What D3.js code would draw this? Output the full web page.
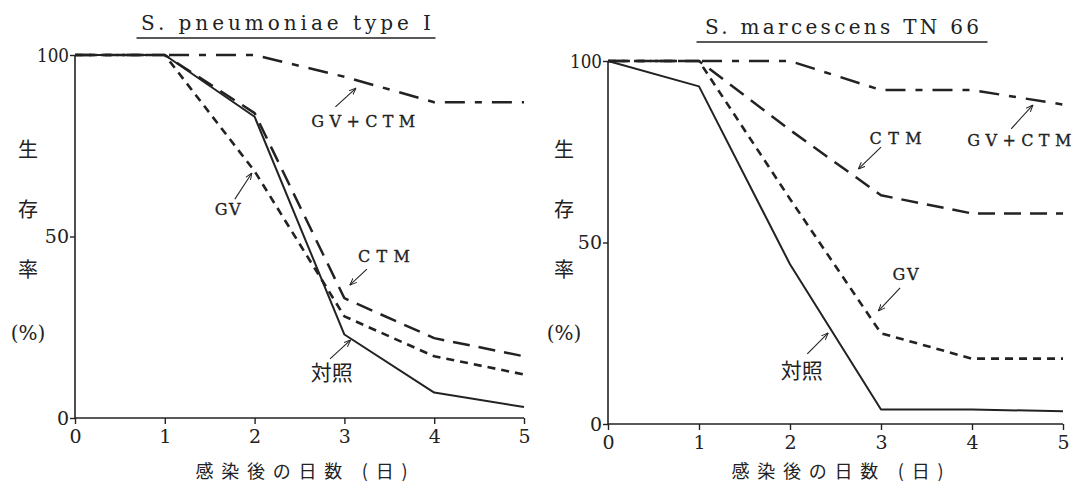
<!DOCTYPE html>
<html>
<head>
<meta charset="utf-8">
<script src="https://cdn.jsdelivr.net/npm/d3@7"></script>
<style>
  body { margin: 0; background: #fff; }
  svg { display: block; }
</style>
</head>
<body>
<div id="chart"></div>
<script>
(function(d3) {
    'use strict';

    // days after infection
    var days = [0, 1, 2, 3, 4, 5];
    var xTicks = [0, 1, 2, 3, 4, 5];
    var yTicks = [0, 50, 100];

    // S. pneumoniae type I, survival (%)
    var pneuControl = [100, 100, 83, 23, 7, 3];
    var pneuGV = [100, 100, 68, 28, 17, 12];
    var pneuCTM = [100, 100, 84, 33, 22, 17];
    var pneuGVCTM = [100, 100, 100, 94, 87, 87];

    // S. marcescens TN 66, survival (%)
    var marcControl = [100, 93, 44, 4, 4, 3.5];
    var marcGV = [100, 100, 62, 25, 18, 18];
    var marcCTM = [100, 100, 81, 63, 58, 58];
    var marcGVCTM = [100, 100, 100, 92, 92, 88];

    var width = 1074;
    var height = 493;
    var ink = '#222';
    var serif = 'DejaVu Serif, Liberation Serif, serif';
    var cjk = 'Noto Sans CJK JP, Noto Sans CJK SC, sans-serif';

    var styles = {
      control: { dash: null, w: 2 },
      gv: { dash: '8,6', w: 2.6 },
      ctm: { dash: '17,9', w: 2.5 },
      gvctm: { dash: '20,10,7,10', w: 2.5 }
    };

    var svg = d3.select('#chart')
      .append('svg')
      .attr('width', width)
      .attr('height', height);

    var defs = svg.append('defs');
    defs.append('marker')
      .attr('id', 'arr')
      .attr('viewBox', '0 0 10 10')
      .attr('refX', 10)
      .attr('refY', 5)
      .attr('markerWidth', 7)
      .attr('markerHeight', 7)
      .attr('markerUnits', 'userSpaceOnUse')
      .attr('orient', 'auto')
      .append('path')
      .attr('d', 'M0,1 L10,5 L0,9')
      .attr('fill', 'none')
      .attr('stroke', ink)
      .attr('stroke-width', 1.4);

    function drawPanel(p) {
      var x = d3.scaleLinear().domain([0, 5]).range([p.x0, p.x1]);
      var y = d3.scaleLinear().domain([0, 100]).range([p.y0, p.y1]);
      var g = svg.append('g');

      // title + underline
      g.append('text')
        .attr('x', p.titleX)
        .attr('y', p.titleY)
        .attr('text-anchor', 'middle')
        .attr('textLength', p.titleLen)
        .attr('lengthAdjust', 'spacing')
        .attr('font-family', serif)
        .attr('font-size', 20)
        .attr('fill', ink)
        .text(p.title);
      g.append('line')
        .attr('x1', p.titleX - p.ulLen / 2)
        .attr('x2', p.titleX + p.ulLen / 2)
        .attr('y1', p.titleY + 8)
        .attr('y2', p.titleY + 8)
        .attr('stroke', ink)
        .attr('stroke-width', 1.5);

      // axes
      var xAxis = d3.axisBottom(x).tickValues(xTicks).tickFormat(d3.format('d'))
        .tickSize(6).tickPadding(3);
      var yAxis = d3.axisLeft(y).tickValues(yTicks).tickFormat(d3.format('d'))
        .tickSize(5).tickPadding(1);

      var gx = g.append('g')
        .attr('transform', 'translate(0,' + p.y0 + ')')
        .call(xAxis);
      var gy = g.append('g')
        .attr('transform', 'translate(' + p.x0 + ',0)')
        .call(yAxis);

      [gx, gy].forEach(function(a) {
        a.attr('font-family', serif).attr('font-size', 19);
        a.select('.domain').attr('stroke', ink).attr('stroke-width', 1.6);
        a.selectAll('.tick line').attr('stroke', ink).attr('stroke-width', 1.4);
        a.selectAll('.tick text').attr('fill', ink);
      });
      gx.select('.domain').attr('d', 'M' + p.x0 + ',0H' + p.x1);
      gy.select('.domain').attr('d', 'M0,' + p.y0 + 'V' + p.y1);
      gx.selectAll('.tick text').attr('dy', '0.85em');
      gy.selectAll('.tick text').attr('textLength', function(d) { return d === 100 ? 32 : null; })
        .attr('lengthAdjust', 'spacingAndGlyphs');

      // y axis title
      ['生', '存', '率'].forEach(function(c, i) {
        g.append('text')
          .attr('x', p.yLabX)
          .attr('y', 157 + i * 60)
          .attr('text-anchor', 'middle')
          .attr('font-family', cjk)
          .attr('font-size', 20)
          .attr('fill', ink)
          .text(c);
      });
      g.append('text')
        .attr('x', p.yLabX)
        .attr('y', 340)
        .attr('text-anchor', 'middle')
        .attr('font-family', serif)
        .attr('font-size', 20)
        .attr('fill', ink)
        .text('(%)');

      // x axis title
      g.append('text')
        .attr('x', (p.x0 + p.x1) / 2 + 2)
        .attr('y', 478)
        .attr('text-anchor', 'middle')
        .attr('textLength', 212)
        .attr('lengthAdjust', 'spacing')
        .attr('font-family', cjk)
        .attr('font-size', 18)
        .attr('fill', ink)
        .text('感染後の日数 (日)');

      // series
      var line = d3.line()
        .x(function(d, i) { return x(days[i]); })
        .y(function(d) { return y(d); });

      p.series.forEach(function(s) {
        g.append('path')
          .datum(s.values)
          .attr('d', line)
          .attr('fill', 'none')
          .attr('stroke', ink)
          .attr('stroke-width', styles[s.key].w)
          .attr('stroke-dasharray', styles[s.key].dash)
          .attr('stroke-linejoin', 'round');
      });

      // labels with arrows
      p.notes.forEach(function(n) {
        g.append('line')
          .attr('x1', x(n.from[0]))
          .attr('y1', y(n.from[1]))
          .attr('x2', x(n.to[0]))
          .attr('y2', y(n.to[1]))
          .attr('stroke', ink)
          .attr('stroke-width', 1.1)
          .attr('marker-end', 'url(#arr)');
        var t = g.append('text')
          .attr('x', x(n.at[0]))
          .attr('y', y(n.at[1]))
          .attr('text-anchor', 'middle')
          .attr('dy', '0.35em')
          .attr('font-family', n.cjk ? cjk : serif)
          .attr('font-size', n.cjk ? 21 : 16)
          .attr('fill', ink)
          .attr('stroke', n.cjk ? 'none' : ink)
          .attr('stroke-width', 0.3)
          .text(n.text);
        if (n.len) {
          t.attr('textLength', n.len).attr('lengthAdjust', 'spacing');
        }
      });
    }

    drawPanel({
      title: 'S. pneumoniae  type  I',
      titleX: 286, titleY: 30, titleLen: 290, ulLen: 299,
      x0: 75, x1: 524, y0: 418, y1: 55,
      yLabX: 28,
      series: [
        { key: 'gvctm', values: pneuGVCTM },
        { key: 'ctm', values: pneuCTM },
        { key: 'gv', values: pneuGV },
        { key: 'control', values: pneuControl }
      ],
      notes: [
        { text: 'GV+CTM', at: [3.21, 81.8], from: [2.90, 85.7], to: [3.13, 90.9], len: 104 },
        { text: 'GV', at: [1.70, 57.6], from: [1.78, 60.3], to: [1.97, 67.5], len: 26 },
        { text: 'CTM', at: [3.44, 44.6], from: [3.25, 41], to: [3.06, 36.6], len: 52 },
        { text: '対照', at: [2.86, 12.4], from: [2.84, 16.3], to: [3.07, 21.5], cjk: true }
      ]
    });

    drawPanel({
      title: 'S. marcescens  TN 66',
      titleX: 842, titleY: 34, titleLen: 274, ulLen: 291,
      x0: 608, x1: 1063, y0: 424, y1: 61,
      yLabX: 564,
      series: [
        { key: 'gvctm', values: marcGVCTM },
        { key: 'ctm', values: marcCTM },
        { key: 'gv', values: marcGV },
        { key: 'control', values: marcControl }
      ],
      notes: [
        { text: 'CTM', at: [3.16, 78.8], from: [3.0, 76.3], to: [2.75, 70.2], len: 52 },
        { text: 'GV+CTM', at: [4.52, 78], from: [4.43, 81.3], to: [4.67, 87.9], len: 104 },
        { text: 'GV', at: [3.27, 41.2], from: [3.21, 37.5], to: [2.97, 31.1], len: 26 },
        { text: '対照', at: [2.13, 14.6], from: [2.19, 19.3], to: [2.42, 25.1], cjk: true }
      ]
    });

})(window.d3);
</script>
</body>
</html>
